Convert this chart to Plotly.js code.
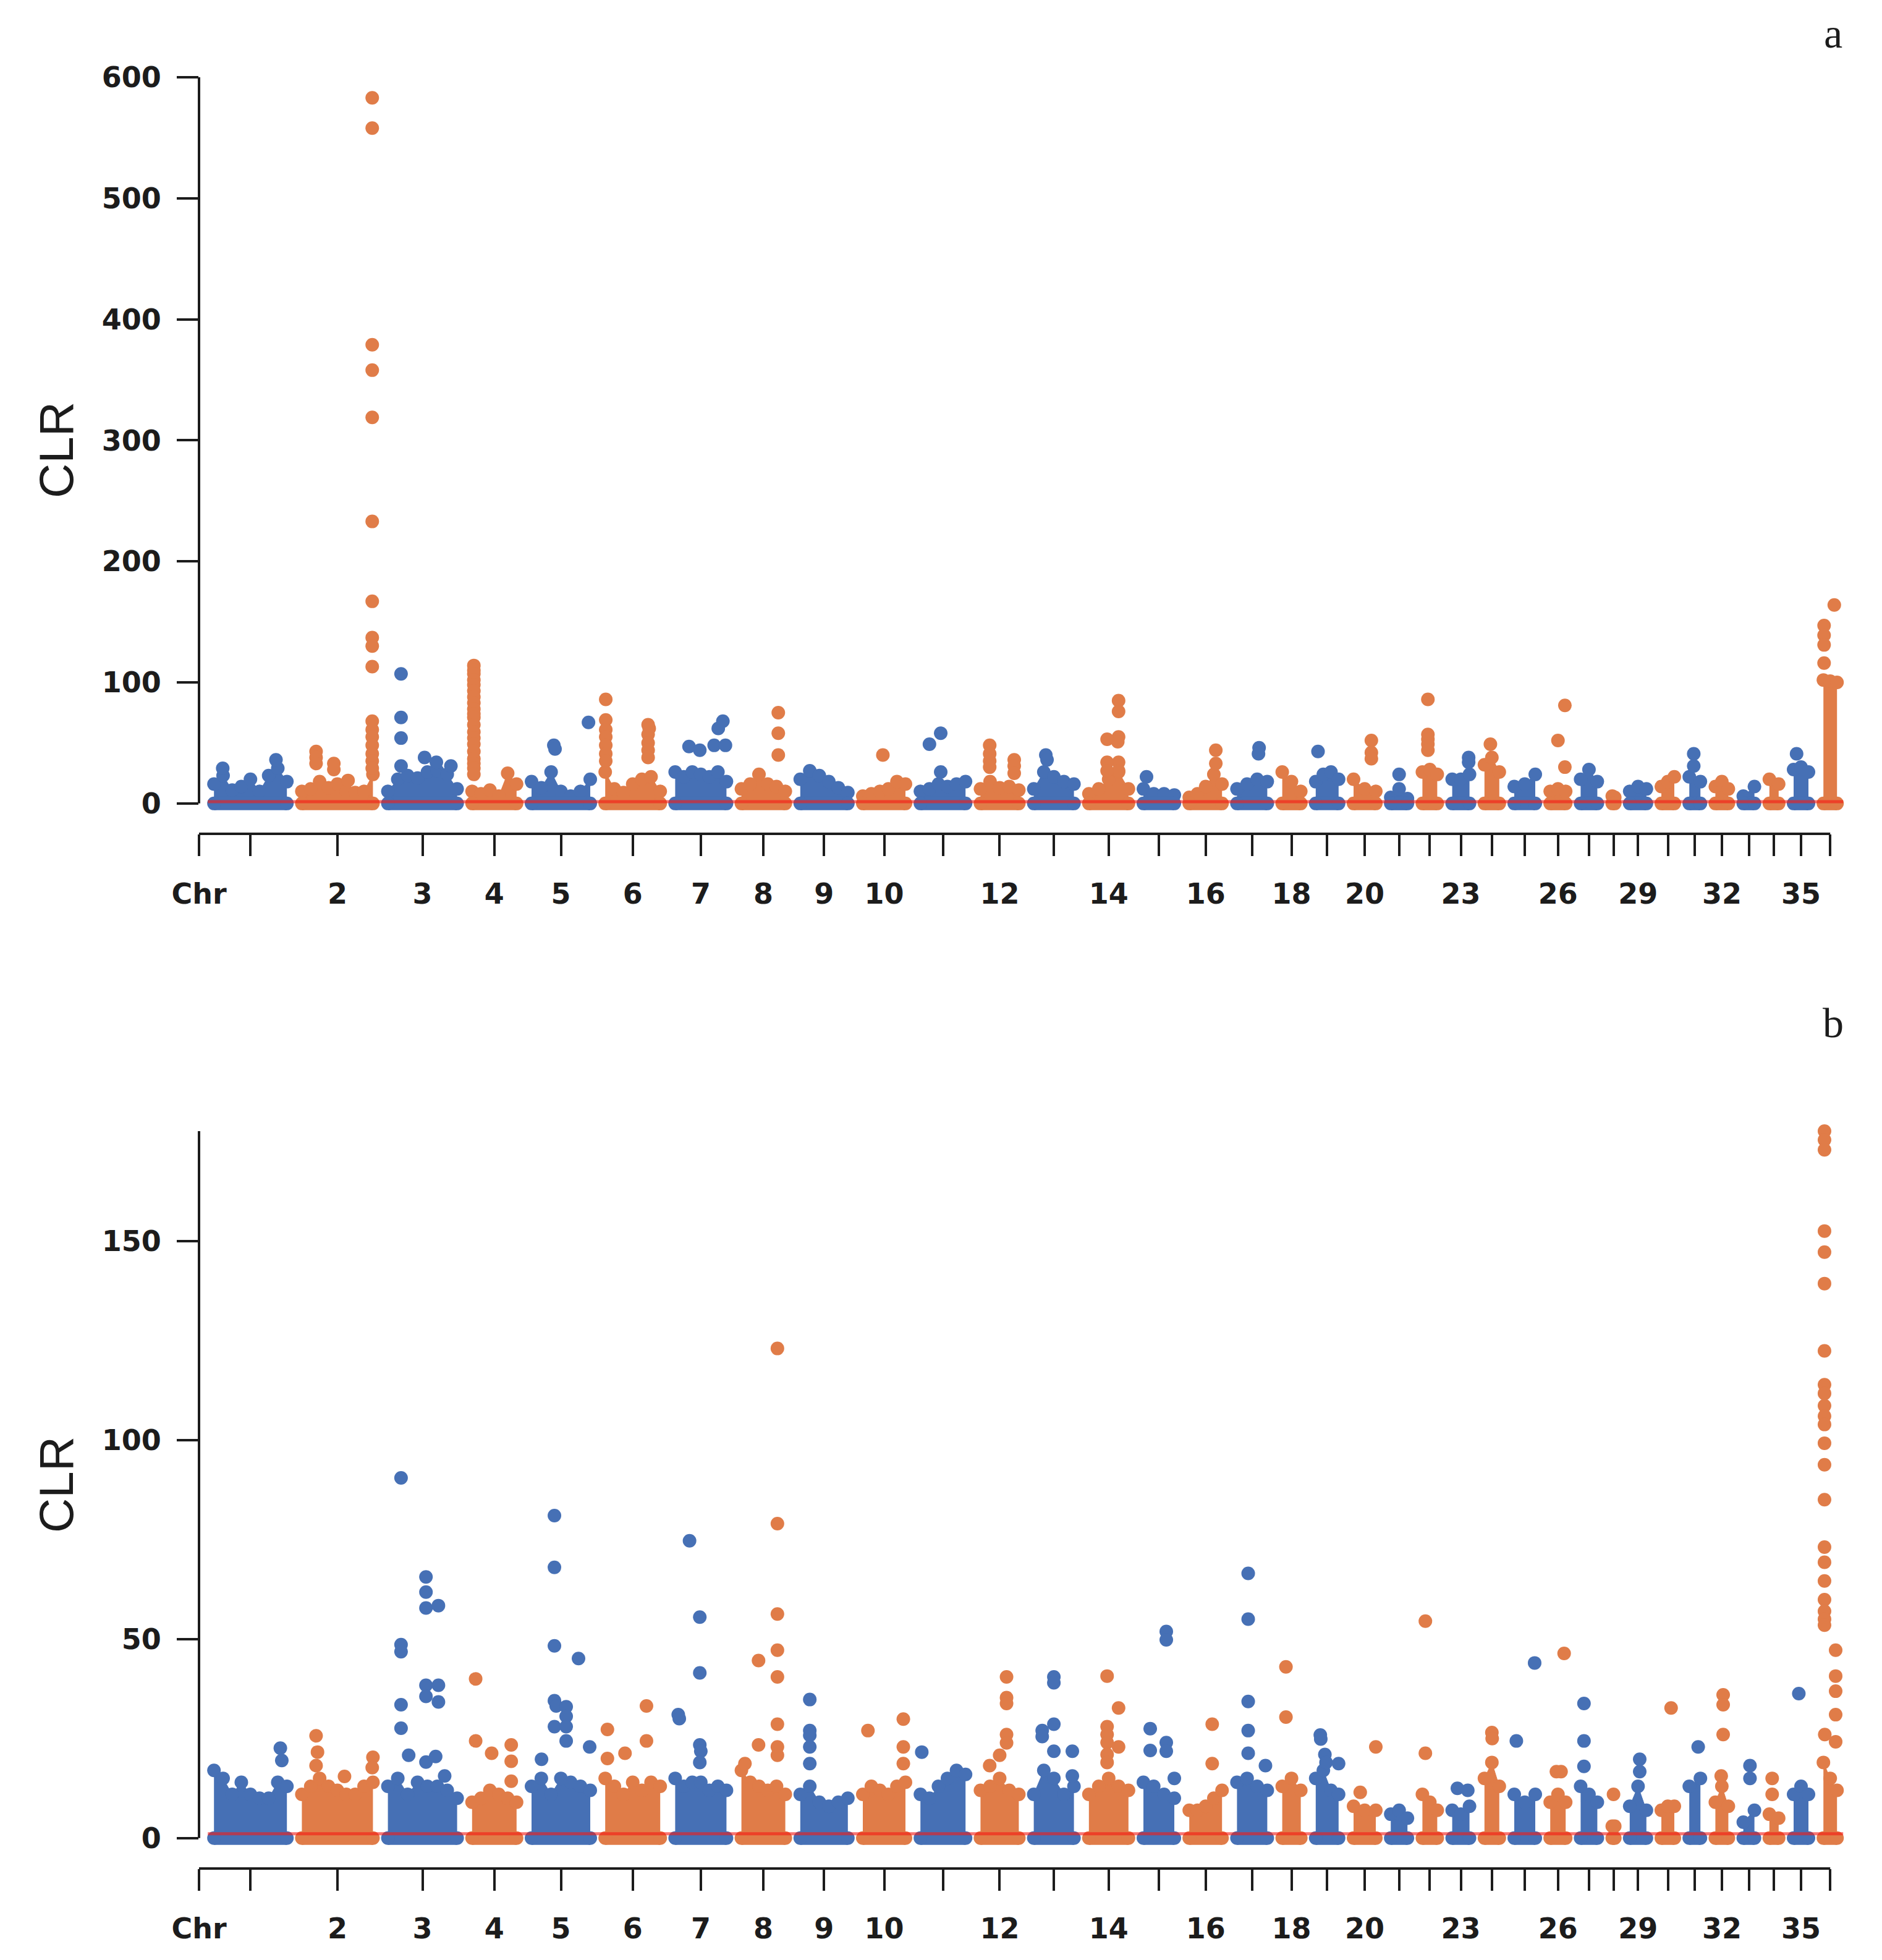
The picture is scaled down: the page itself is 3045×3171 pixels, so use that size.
<!DOCTYPE html>
<html>
<head>
<meta charset="utf-8">
<script src="https://cdn.plot.ly/plotly-3.0.1.min.js"></script>
<style>
  body { margin: 0; background: #fff; }
  #chart { width: 3045px; height: 3171px; }
</style>
</head>
<body>
<div id="chart"></div>
<script>
// chromosome sizes (plot units), read from the block widths
var chrSize = [118, 115, 112, 72, 95, 89, 83, 71, 77, 69, 73, 62, 65, 64, 50, 53, 49, 30,
               37, 36, 27, 24, 28, 24, 34, 25, 27, 4, 27, 21, 18, 21, 18, 15, 24, 22];

// first tick is the "Chr" caption, then one tick per chromosome
var tickText = ['Chr', '', '2', '3', '4', '5', '6', '7', '8', '9', '10', '', '12', '', '14', '',
                '16', '', '18', '', '20', '', '', '23', '', '', '26', '', '', '29', '', '', '32',
                '', '', '35', ''];

var thresholdA = 1.4;
var thresholdB = 1.1;

// top of the dense cloud of windows, per chromosome, left to right (panel a)
var bandA = [
  [16, 23, 11, 14, 20, 10, 23, 29, 18], [10, 12, 18, 13, 16, 10, 9, 10, 24],
  [10, 20, 23, 21, 26, 27, 24, 12], [10, 8, 11, 6, 25, 16], [18, 13, 26, 10, 6, 10, 20],
  [26, 12, 9, 16, 20, 22, 10], [26, 22, 26, 24, 22, 26, 18], [12, 16, 24, 16, 14, 10],
  [20, 27, 23, 18, 13, 9], [6, 8, 10, 12, 18, 16], [10, 12, 16, 14, 16, 18],
  [12, 18, 13, 14, 11], [12, 26, 22, 18, 16], [8, 12, 20, 26, 12], [12, 8, 8, 7],
  [5, 8, 14, 24, 16], [12, 16, 20, 18], [26, 18, 10], [18, 24, 26, 20], [20, 12, 10],
  [5, 12, 4], [26, 28, 24], [20, 20, 24], [32, 38, 26], [14, 16, 24], [10, 12, 10],
  [20, 28, 18], [6, 5], [10, 14, 12], [14, 18, 22], [22, 18], [14, 18, 12], [6, 14],
  [20, 16], [28, 30, 26], [102, 101, 100]
];

// isolated windows above the cloud: [fraction along chromosome, CLR] (panel a)
var peaksA = [
  [[0.12, 29], [0.85, 36]],
  [[0.2, 43], [0.2, 38], [0.2, 33], [0.45, 33], [0.45, 28], [0.65, 19], [0.99, 583], [0.99, 558],
   [0.99, 379], [0.99, 358], [0.99, 319], [0.99, 233], [0.99, 167], [0.99, 137], [0.99, 130],
   [0.99, 113], [0.99, 68], [0.99, 61], [0.99, 55], [0.99, 48], [0.99, 41], [0.99, 35], [0.99, 29]],
  [[0.19, 107], [0.19, 71], [0.19, 54], [0.19, 31], [0.53, 38], [0.7, 34], [0.91, 31]],
  [[0.04, 114], [0.04, 110], [0.04, 107], [0.04, 102], [0.04, 98], [0.04, 93], [0.04, 88],
   [0.04, 83], [0.04, 78], [0.04, 74], [0.04, 71], [0.04, 65], [0.04, 59], [0.04, 54],
   [0.04, 49], [0.04, 43], [0.04, 37], [0.04, 33], [0.04, 29], [0.04, 24]],
  [[0.38, 48], [0.4, 45], [0.97, 67]],
  [[0.01, 86], [0.01, 69], [0.01, 61], [0.01, 55], [0.01, 48], [0.01, 41], [0.01, 35],
   [0.78, 65], [0.8, 62], [0.78, 57], [0.78, 50], [0.78, 44], [0.78, 38]],
  [[0.27, 47], [0.48, 44], [0.76, 48], [0.84, 62], [0.93, 68], [0.98, 48]],
  [[0.84, 75], [0.84, 58], [0.84, 40]],
  [],
  [[0.47, 40]],
  [[0.2, 49], [0.45, 58], [0.45, 26]],
  [[0.24, 48], [0.24, 41], [0.24, 35], [0.24, 30], [0.88, 36], [0.88, 31], [0.88, 25]],
  [[0.3, 40], [0.33, 36]],
  [[0.75, 85], [0.75, 76], [0.75, 55], [0.73, 51], [0.75, 34], [0.75, 27], [0.46, 53],
   [0.46, 34], [0.46, 27]],
  [[0.1, 22]],
  [[0.81, 44], [0.81, 33]],
  [[0.73, 46], [0.71, 41]],
  [],
  [[0.1, 43]],
  [[0.8, 52], [0.8, 42], [0.8, 37]],
  [[0.5, 24]],
  [[0.37, 86], [0.37, 57], [0.37, 53], [0.37, 49], [0.37, 44]],
  [[0.95, 38], [0.95, 34]],
  [[0.4, 49]],
  [],
  [[0.5, 52], [0.95, 81], [0.95, 30]],
  [], [], [], [],
  [[0.4, 41], [0.4, 31]],
  [], [], [],
  [[0.2, 41]],
  [[0.05, 147], [0.05, 139], [0.05, 131], [0.05, 116], [0.8, 164]]
];

// panel b
var bandB = [
  [17, 15, 11, 14, 11, 10, 10, 14, 13], [11, 13, 15, 13, 12, 11, 11, 13, 14],
  [13, 15, 11, 14, 13, 13, 12, 10], [9, 10, 12, 11, 10, 9], [13, 15, 11, 15, 14, 13, 12],
  [15, 13, 11, 14, 12, 14, 13], [15, 13, 14, 14, 12, 13, 12], [17, 14, 13, 12, 13, 11],
  [11, 13, 9, 8, 9, 10], [11, 13, 12, 11, 13, 14], [11, 10, 13, 15, 17, 16],
  [12, 13, 15, 12, 11], [11, 17, 15, 11, 13], [11, 13, 15, 13, 12], [14, 13, 11, 10],
  [7, 7, 8, 10, 12], [14, 15, 13, 12], [13, 15, 12], [15, 17, 12, 11], [8, 7, 7],
  [6, 7, 5], [11, 9, 7], [7, 6, 8], [15, 19, 13], [11, 9, 11], [9, 11, 9], [13, 11, 9],
  [3, 3], [8, 13, 7], [7, 8, 8], [13, 15], [9, 13, 8], [4, 7], [6, 5], [11, 13, 11],
  [19, 15, 12]
];

var peaksB = [
  [[0.91, 22.6], [0.93, 19.5]],
  [[0.2, 25.7], [0.22, 21.6], [0.2, 18.2], [0.6, 15.5], [1.0, 20.3], [0.99, 17.7]],
  [[0.19, 90.5], [0.19, 48.6], [0.19, 46.8], [0.19, 33.5], [0.19, 27.6], [0.3, 20.8],
   [0.55, 65.6], [0.55, 61.8], [0.55, 57.8], [0.55, 38.4], [0.55, 35.6], [0.55, 19.1],
   [0.73, 58.4], [0.73, 38.4], [0.73, 34.2], [0.69, 20.5], [0.82, 15.6]],
  [[0.08, 40], [0.08, 24.4], [0.44, 21.3], [0.88, 23.4], [0.88, 19.3], [0.88, 14.3]],
  [[0.39, 81], [0.39, 68], [0.39, 48.3], [0.39, 34.5], [0.42, 33.2], [0.39, 28], [0.59, 33],
   [0.59, 30.6], [0.59, 28], [0.59, 24.4], [0.8, 45.1], [0.99, 22.9], [0.17, 19.8]],
  [[0.04, 27.3], [0.04, 20], [0.36, 21.3], [0.75, 33.2], [0.75, 24.4]],
  [[0.06, 31], [0.08, 30], [0.28, 74.7], [0.48, 55.5], [0.48, 41.5], [0.48, 23.4], [0.5, 21.8],
   [0.48, 19]],
  [[0.82, 123], [0.82, 79], [0.82, 56.3], [0.82, 47.2], [0.82, 40.5], [0.82, 28.6], [0.82, 22.9],
   [0.82, 20.8], [0.39, 44.6], [0.39, 23.4], [0.08, 18.7]],
  [[0.2, 34.8], [0.2, 27], [0.2, 25.8], [0.2, 22.9], [0.2, 18.7]],
  [[0.12, 27], [0.95, 29.9], [0.95, 22.9], [0.95, 18.7]],
  [[0.03, 21.6]],
  [[0.68, 40.5], [0.68, 35.3], [0.68, 33.8], [0.68, 26], [0.68, 23.9], [0.24, 18.2], [0.5, 20.8]],
  [[0.5, 40.5], [0.5, 39], [0.5, 28.6], [0.5, 21.8], [0.21, 27], [0.21, 25.5], [0.96, 21.8],
   [0.96, 15.6]],
  [[0.46, 40.7], [0.46, 28], [0.46, 26], [0.46, 24], [0.46, 21], [0.46, 19], [0.75, 32.7],
   [0.75, 22.9]],
  [[0.74, 51.9], [0.74, 49.8], [0.74, 24], [0.74, 21.8], [0.22, 27.5], [0.22, 22], [1.0, 15]],
  [[0.7, 28.6], [0.7, 18.7]],
  [[0.37, 66.5], [0.37, 55], [0.37, 34.3], [0.37, 27], [0.37, 21.3], [0.94, 18.2]],
  [[0.2, 43], [0.2, 30.4]],
  [[0.2, 25.9], [0.22, 24.9], [0.4, 21], [0.45, 19], [1.0, 18.7]],
  [[1.0, 22.9], [0.3, 11.5]],
  [],
  [[0.2, 54.5], [0.2, 21.3]],
  [[0.3, 12.5], [0.9, 12]],
  [[0.5, 26.5], [0.52, 25]],
  [[0.97, 44], [0.1, 24.4]],
  [[0.9, 46.4], [0.4, 16.7], [0.7, 16.7]],
  [[0.2, 33.8], [0.2, 24.4], [0.2, 18]],
  [[0.5, 11]],
  [[0.6, 19.8], [0.6, 16.7]],
  [[0.75, 32.7]],
  [[0.8, 22.9]],
  [[0.6, 36], [0.6, 33.5], [0.6, 26], [0.45, 15.6]],
  [[0.6, 18.2], [0.6, 15]],
  [[0.3, 15], [0.3, 11]],
  [[0.35, 36.3]],
  [[0.08, 177.6], [0.08, 175.4], [0.08, 172.9], [0.08, 152.5], [0.08, 147.2], [0.08, 139.3],
   [0.08, 122.4], [0.08, 113.9], [0.08, 111.7], [0.08, 108.6], [0.08, 106], [0.08, 103.9],
   [0.08, 99.2], [0.08, 93.8], [0.08, 85], [0.08, 73.1], [0.08, 69.3], [0.08, 64.6],
   [0.08, 59.9], [0.08, 57], [0.08, 55], [0.08, 53.5], [0.9, 47.2], [0.9, 40.7], [0.9, 36.9],
   [0.9, 31], [0.9, 24.2], [0.1, 26]]
];

var colours = ['#4670b5', '#e07c48'];
var ink = '#1c1c1c';
var dotSize = 22;
var chrGap = 24.2;
var xRange = [0, 2680];
var rangeA = [-25.1, 600];
var rangeB = [-7.65, 177.6];

var starts = [], centers = [];
var pos = chrGap;
chrSize.forEach(function (len) {
  starts.push(pos);
  centers.push(pos + len / 2);
  pos += len + chrGap;
});
var lastEnd = starts[starts.length - 1] + chrSize[chrSize.length - 1];

var traces = [];

function addPanel(band, peaks, xa, ya) {
  var base = [{x: [], y: []}, {x: [], y: []}];
  var dots = [{x: [], y: []}, {x: [], y: []}];
  chrSize.forEach(function (len, i) {
    var c = i % 2;
    var s = starts[i], vals = band[i], n = vals.length;
    traces.push({
      type: 'scatter', mode: 'lines+markers', xaxis: xa, yaxis: ya,
      x: vals.map(function (v, k) { return s + len * k / (n - 1); }),
      y: vals,
      fill: 'tozeroy', fillcolor: colours[c],
      line: {width: 1, color: colours[c]},
      marker: {color: colours[c], size: dotSize},
      cliponaxis: false, hoverinfo: 'skip', showlegend: false
    });
    base[c].x.push(s, s + len, null);
    base[c].y.push(0, 0, null);
    peaks[i].forEach(function (p) {
      dots[c].x.push(s + p[0] * len);
      dots[c].y.push(p[1]);
    });
  });
  [0, 1].forEach(function (c) {
    traces.push({
      type: 'scatter', mode: 'lines+markers', xaxis: xa, yaxis: ya,
      x: base[c].x, y: base[c].y,
      line: {width: dotSize, color: colours[c]},
      marker: {color: colours[c], size: dotSize},
      cliponaxis: false, hoverinfo: 'skip', showlegend: false
    });
    traces.push({
      type: 'scatter', mode: 'markers', xaxis: xa, yaxis: ya,
      x: dots[c].x, y: dots[c].y,
      marker: {color: colours[c], size: dotSize},
      cliponaxis: false, hoverinfo: 'skip', showlegend: false
    });
  });
}

addPanel(bandA, peaksA, 'x', 'y');
addPanel(bandB, peaksB, 'x2', 'y2');

var maxB = 0;
peaksB.forEach(function (list) { list.forEach(function (p) { maxB = Math.max(maxB, p[1]); }); });

function frac(v, r) { return (v - r[0]) / (r[1] - r[0]); }

var tickFont = {family: 'DejaVu Sans', size: 46, color: ink, weight: 'bold'};

function xAxis(anchor) {
  return {
    anchor: anchor, domain: [0, 1], range: xRange,
    tickmode: 'array', tickvals: [0].concat(centers), ticktext: tickText,
    ticks: 'outside', ticklen: 35, tickwidth: 4, tickcolor: ink,
    showline: false, showgrid: false, zeroline: false,
    tickfont: tickFont, ticklabelstandoff: 22
  };
}

function yAxis(anchor, domain, range, vals) {
  return {
    anchor: anchor, domain: domain, range: range,
    tickmode: 'array', tickvals: vals,
    ticks: 'outside', ticklen: 35, tickwidth: 4, tickcolor: ink,
    showline: false, showgrid: false, zeroline: false,
    tickfont: tickFont, ticklabelstandoff: 16
  };
}

function axisLines(xd, yd, range, top) {
  return [
    {type: 'line', xref: xd, yref: yd, x0: 0, x1: 0, y0: frac(0, range), y1: frac(top, range),
     line: {color: ink, width: 4}},
    {type: 'line', xref: xd, yref: yd, x0: 0, x1: frac(centers[centers.length - 1], xRange),
     y0: 0, y1: 0, line: {color: ink, width: 4}}
  ];
}

function threshold(xr, yr, v) {
  return {type: 'line', xref: xr, yref: yr, x0: starts[0] - 10, x1: lastEnd + 10, y0: v, y1: v,
          line: {color: 'rgba(245,25,20,0.6)', width: 5}};
}

var shapes = []
  .concat(axisLines('x domain', 'y domain', rangeA, 600))
  .concat(axisLines('x2 domain', 'y2 domain', rangeB, maxB))
  .concat([threshold('x', 'y', thresholdA), threshold('x2', 'y2', thresholdB)]);

var layout = {
  width: 3045, height: 3171,
  margin: {l: 322, r: 43, t: 0, b: 0},
  paper_bgcolor: '#fff', plot_bgcolor: '#fff',
  showlegend: false,
  xaxis: xAxis('y'),
  xaxis2: xAxis('y2'),
  yaxis: yAxis('x', [0.57458, 0.96058], rangeA, [0, 100, 200, 300, 400, 500, 600]),
  yaxis2: yAxis('x2', [0.04667, 0.4229], rangeB, [0, 50, 100, 150]),
  shapes: shapes,
  annotations: [
    {text: 'CLR', xref: 'paper', yref: 'paper', x: -0.0862, y: 0.7704, textangle: -90,
     showarrow: false, xanchor: 'center', yanchor: 'middle',
     font: {family: 'Liberation Sans', size: 78, color: ink}},
    {text: 'CLR', xref: 'paper', yref: 'paper', x: -0.0862, y: 0.2425, textangle: -90,
     showarrow: false, xanchor: 'center', yanchor: 'middle',
     font: {family: 'Liberation Sans', size: 78, color: ink}},
    {text: 'a', xref: 'paper', yref: 'paper', x: 0.98657, y: 0.98297, showarrow: false,
     xanchor: 'center', yanchor: 'middle', font: {family: 'Liberation Serif', size: 68, color: ink}},
    {text: 'b', xref: 'paper', yref: 'paper', x: 0.98657, y: 0.47808, showarrow: false,
     xanchor: 'center', yanchor: 'middle', font: {family: 'Liberation Serif', size: 68, color: ink}}
  ]
};

Plotly.newPlot('chart', traces, layout, {staticPlot: true});
</script>
</body>
</html>
